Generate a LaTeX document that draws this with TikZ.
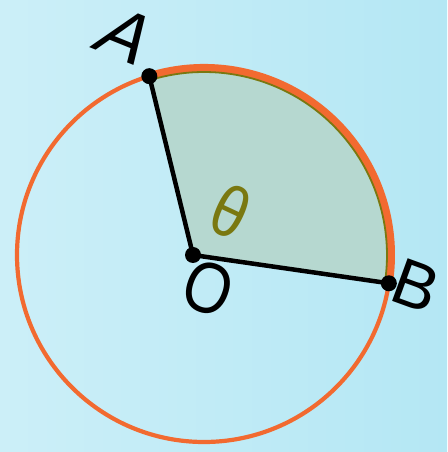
\documentclass[tikz,border=0pt]{standalone}
\usepackage{fontspec}
\setmainfont{Liberation Sans}
\usetikzlibrary{calc}
\definecolor{bgL}{RGB}{204,239,248}
\definecolor{bgR}{RGB}{180,231,244}
\definecolor{orng}{RGB}{242,106,48}
\definecolor{olv}{RGB}{122,120,16}
\definecolor{sect}{RGB}{182,216,208}
\begin{document}
\begin{tikzpicture}[x=1pt,y=1pt,
  thinarc/.style={draw=orng,line width=4.2pt},
  thickarc/.style={draw=orng,line width=8pt},
  seg/.style={draw=black,line width=4.5pt},
  dotpt/.style={circle,fill=black,inner sep=0pt,minimum size=16pt},
  lbl/.style={font=\fontsize{72}{76}\selectfont,inner sep=0pt}]
\useasboundingbox (0,0) rectangle (447,452);
\shade[left color=bgL,right color=bgR] (0,0) rectangle (447,452);
\coordinate (C) at (204,197);
\coordinate (O) at (193,197);
\coordinate (A) at ($(C)+(107:187)$);
\coordinate (B) at ($(C)+(-8.7:187)$);
% full circle
\draw[thinarc] (C) circle[radius=187];
% sector fill
\fill[sect] (O) -- (A) arc[start angle=107,end angle=-8.7,radius=187] -- cycle;
% thick arc
\draw[thickarc] (A) arc[start angle=107,end angle=-8.7,radius=187];
\draw[olv,line width=1.8pt] ($(C)+(106:183)$) arc[start angle=106,end angle=-7.5,radius=183];
% radii
\draw[seg] (A) -- (O) -- (B);
\node[dotpt] (dA) at (A) {};
\node[dotpt] (dO) at (O) {};
\node[dotpt] (dB) at (B) {};
% labels
\node[lbl,rotate=-22,xslant=0.25] (lA) at (127,416) {A};
\node[lbl,font=\fontsize{66}{70}\selectfont,rotate=-20] (lB) at (416,166) {B};
\node[lbl,rotate=-20,xscale=0.85] (lO) at (208,164) {O};
\node[lbl,rotate=-25,xscale=0.85,text=olv] (lT) at (231,241) {θ};
\end{tikzpicture}
\end{document}
